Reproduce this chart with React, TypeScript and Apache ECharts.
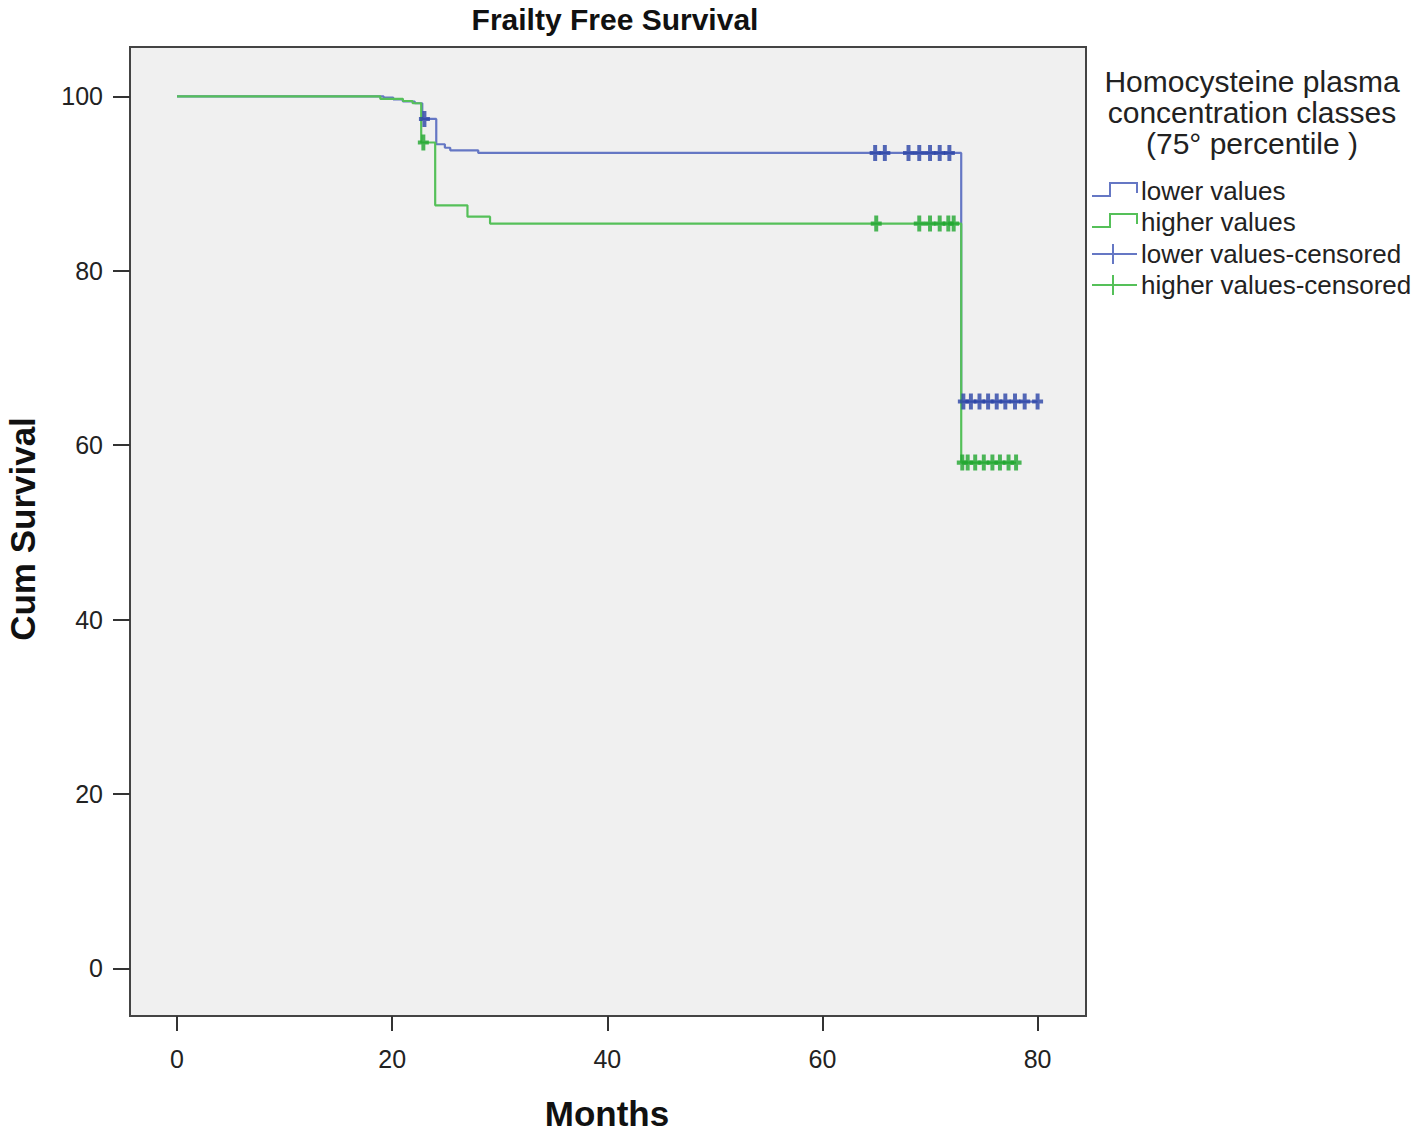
import React, { useEffect, useRef } from "react";
import * as echarts from "echarts";

const xTicks = [0, 20, 40, 60, 80];
const yTicks = [0, 20, 40, 60, 80, 100];

// Kaplan-Meier steps: [time (months), cumulative survival after drop]
const lowerSteps: [number, number][] = [
  [0, 100], [19.2, 99.85], [20.1, 99.65], [21.0, 99.4], [22.1, 99.2], [22.8, 97.4],
  [24.1, 94.5], [24.9, 94.1], [25.4, 93.8], [28.0, 93.5], [72.9, 65.0], [80.0, 65.0],
];
const higherSteps: [number, number][] = [
  [0, 100], [18.9, 99.7], [21.0, 99.46], [21.9, 99.2], [22.7, 94.7], [24.0, 87.5],
  [27.0, 86.2], [29.1, 85.4], [72.9, 58.0], [78.0, 58.0],
];
const lowerCensored: [number, number][] = [
  [23.0, 97.4], [64.9, 93.5], [65.8, 93.5], [68.0, 93.5], [69.0, 93.5], [70.0, 93.5],
  [70.9, 93.5], [71.8, 93.5], [73.1, 65], [73.8, 65], [74.6, 65], [75.4, 65], [76.2, 65],
  [77.0, 65], [77.9, 65], [78.8, 65], [80.0, 65],
];
const higherCensored: [number, number][] = [
  [22.9, 94.7], [65.0, 85.4], [69.0, 85.4], [70.0, 85.4], [70.9, 85.4], [71.7, 85.4],
  [72.2, 85.4], [73.0, 58], [73.5, 58], [74.2, 58], [75.0, 58], [75.8, 58], [76.5, 58],
  [77.3, 58], [78.0, 58],
];

const legendTitle = ["Homocysteine plasma", "concentration classes", "(75° percentile )"];
const legendLabels = ["lower values", "higher values", "lower values-censored", "higher values-censored"];

const BLUE_LINE = "#6577c4";
const GREEN_LINE = "#55c059";
const BLUE_MARK = "#2a44a6";
const GREEN_MARK = "#20a630";
const FONT = 'Arial, "Liberation Sans", sans-serif';
const PLUS = "path://M3.2,0 H6.8 V5.2 H10 V8.8 H6.8 V14 H3.2 V8.8 H0 V5.2 H3.2 Z";

export default function App() {
  const ref = useRef<HTMLDivElement>(null);
  useEffect(() => {
    if (!ref.current) return;
    const chart = echarts.init(ref.current, null, { renderer: "svg" });
    const legendGraphics: any[] = [];
    legendTitle.forEach((t, i) => {
      legendGraphics.push({
        type: "text", x: 1252, y: 81 + i * 31,
        style: { text: t, fill: "#222", font: `30px ${FONT}`, textAlign: "center", textVerticalAlign: "middle" },
      });
    });
    const itemY = [191, 222, 254, 285];
    legendLabels.forEach((t, i) => {
      legendGraphics.push({
        type: "text", x: 1141, y: itemY[i],
        style: { text: t, fill: "#222", font: `26px ${FONT}`, textAlign: "left", textVerticalAlign: "middle" },
      });
    });
    [0, 1].forEach((i) => {
      const c = i === 0 ? BLUE_LINE : GREEN_LINE;
      const o = i * 31;
      legendGraphics.push({
        type: "polyline",
        shape: { points: [[1092, 196 + o], [1110, 196 + o], [1110, 183 + o], [1137, 183 + o], [1137, 193 + o]] },
        style: { stroke: c, lineWidth: 2, fill: null },
      });
    });
    [2, 3].forEach((i) => {
      const c = i === 2 ? BLUE_LINE : GREEN_LINE;
      const y = itemY[i];
      legendGraphics.push({ type: "line", shape: { x1: 1092, y1: y, x2: 1137, y2: y }, style: { stroke: c, lineWidth: 2 } });
      legendGraphics.push({ type: "line", shape: { x1: 1113, y1: y - 10, x2: 1113, y2: y + 10 }, style: { stroke: c, lineWidth: 2 } });
    });

    chart.setOption({
      animation: false,
      backgroundColor: "#ffffff",
      grid: {
        left: 130, top: 47, right: 334, bottom: 119,
        show: true, backgroundColor: "#f0f0f0", borderColor: "#444", borderWidth: 2,
      },
      xAxis: {
        type: "value", min: -4.37, max: 84.5,
        axisLine: { show: false, onZero: false },
        splitLine: { show: false },
        axisTick: { show: true, customValues: xTicks, length: 15, lineStyle: { color: "#333", width: 2 } },
        axisLabel: { customValues: xTicks, fontSize: 25, color: "#222", margin: 30, fontFamily: FONT },
      },
      yAxis: {
        type: "value", min: -5.45, max: 105.65,
        axisLine: { show: false, onZero: false },
        splitLine: { show: false },
        axisTick: { show: true, customValues: yTicks, length: 17, lineStyle: { color: "#333", width: 2 } },
        axisLabel: { customValues: yTicks, fontSize: 25, color: "#222", margin: 27, fontFamily: FONT },
      },
      series: [
        {
          type: "line", name: "lower values", step: "end", data: lowerSteps, showSymbol: false,
          lineStyle: { color: BLUE_LINE, width: 2.2 }, z: 2,
        },
        {
          type: "line", name: "higher values", step: "end", data: higherSteps, showSymbol: false,
          lineStyle: { color: GREEN_LINE, width: 2.2 }, z: 2,
        },
        {
          type: "scatter", name: "lower values-censored", data: lowerCensored,
          symbol: PLUS, symbolSize: [11, 16], itemStyle: { color: BLUE_MARK }, z: 3,
        },
        {
          type: "scatter", name: "higher values-censored", data: higherCensored,
          symbol: PLUS, symbolSize: [11, 16], itemStyle: { color: GREEN_MARK }, z: 3,
        },
      ],
      graphic: [
        {
          type: "text", x: 615, y: 19,
          style: { text: "Frailty Free Survival", fill: "#111", font: `bold 30px ${FONT}`, textAlign: "center", textVerticalAlign: "middle" },
        },
        {
          type: "text", x: 607, y: 1113,
          style: { text: "Months", fill: "#111", font: `bold 35px ${FONT}`, textAlign: "center", textVerticalAlign: "middle" },
        },
        {
          type: "text", x: 22, y: 529, rotation: Math.PI / 2,
          style: { text: "Cum Survival", fill: "#111", font: `bold 35px ${FONT}`, textAlign: "center", textVerticalAlign: "middle" },
        },
        ...legendGraphics,
      ],
    });
    return () => chart.dispose();
  }, []);
  return <div ref={ref} style={{ position: "fixed", left: 0, top: 0, width: 1420, height: 1135 }} />;
}
